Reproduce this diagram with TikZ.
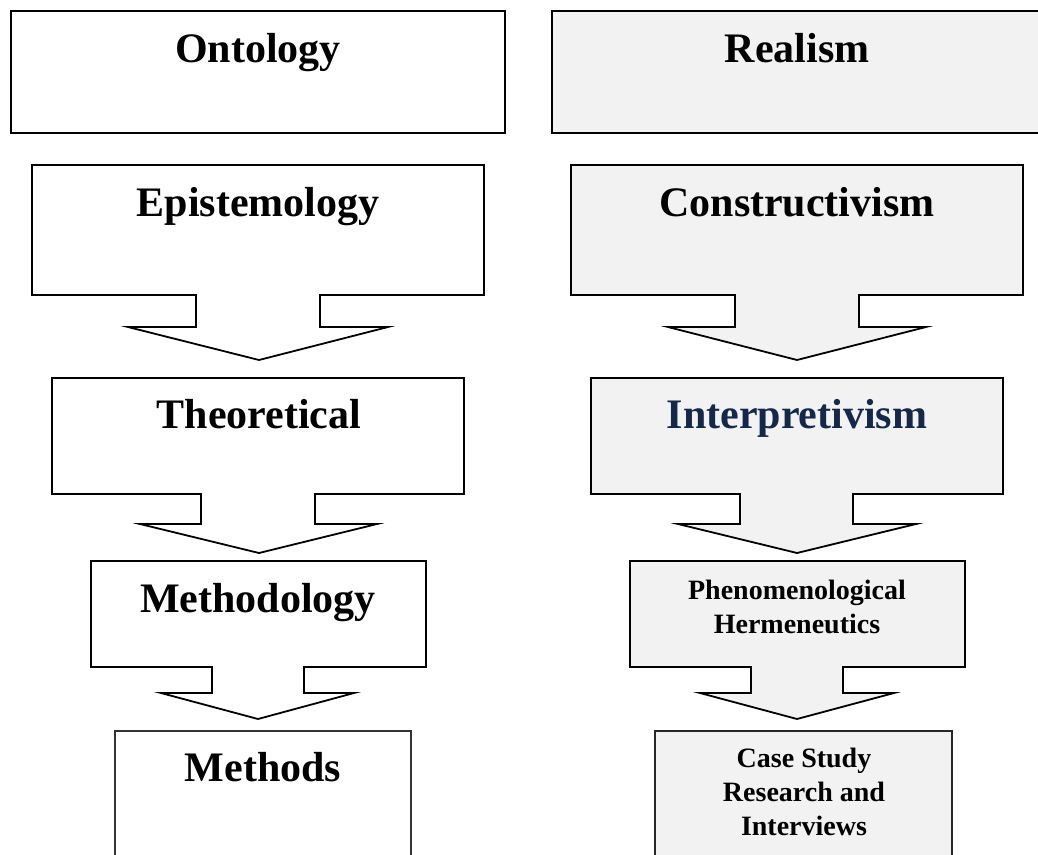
\documentclass[tikz,border=0pt]{standalone}
\usepackage{fontspec}
\setmainfont{Liberation Serif}
\definecolor{boxgray}{HTML}{F2F2F2}
\definecolor{navytext}{HTML}{14294A}
\begin{document}
\begin{tikzpicture}[x=1pt,y=-1pt,
  blk/.style={draw=black,line width=1.8pt,line join=miter},
  lbox/.style={blk,fill=white},
  rbox/.style={blk,fill=boxgray},
  bigtxt/.style={font=\fontsize{42}{50}\selectfont\bfseries,anchor=base,inner sep=0pt},
  smalltxt/.style={font=\fontsize{28}{34}\selectfont\bfseries,align=center,anchor=base,inner sep=0pt}]
\clip (0,0) rectangle (1038,854);
\fill[white] (0,0) rectangle (1038,854);
% ---------- left column ----------
\path[lbox] (11,11) rectangle (505,133);
\path[lbox] (32,165) -- (484,165) -- (484,295) -- (320,295) -- (320,327) -- (388,327) -- (259,360) -- (128,327) -- (196,327) -- (196,295) -- (32,295) -- cycle;
\path[lbox] (52,378) -- (464,378) -- (464,494) -- (315,494) -- (315,524) -- (377,524) -- (259,553) -- (140,524) -- (201,524) -- (201,494) -- (52,494) -- cycle;
\path[lbox] (91,561) -- (426,561) -- (426,667) -- (304,667) -- (304,693) -- (354,693) -- (258,719) -- (161,693) -- (212,693) -- (212,667) -- (91,667) -- cycle;
\path[lbox,line width=1.3pt,draw=black!80] (115,870) -- (115,731) -- (411,731) -- (411,870);
\node[bigtxt] (onto) at (258,62) {Ontology};
\node[bigtxt] (epis) at (258,216) {Epistemology};
\node[bigtxt] (theo) at (259,428) {Theoretical};
\node[bigtxt] (methy) at (258,612) {Methodology};
\node[bigtxt] (meths) at (263,781) {Methods};
% ---------- right column ----------
\path[rbox] (552,11) rectangle (1050,133);
\path[rbox] (571,165) -- (1023,165) -- (1023,295) -- (859,295) -- (859,327) -- (926,327) -- (797,360) -- (668,327) -- (735,327) -- (735,295) -- (571,295) -- cycle;
\path[rbox] (591,378) -- (1003,378) -- (1003,494) -- (853,494) -- (853,524) -- (916,524) -- (797,553) -- (678,524) -- (740,524) -- (740,494) -- (591,494) -- cycle;
\path[rbox] (630,561) -- (965,561) -- (965,667) -- (843,667) -- (843,693) -- (894,693) -- (797,719) -- (700,693) -- (751,693) -- (751,667) -- (630,667) -- cycle;
\path[rbox,line width=1.4pt,draw=black!85] (655,870) -- (655,731) -- (952,731) -- (952,870);
\node[bigtxt] (real) at (797,62) {Realism};
\node[bigtxt] (cons) at (797,216) {Constructivism};
\node[bigtxt,text=navytext] (interp) at (797,428) {Interpretivism};
\node[smalltxt] (phen) at (797,633) {Phenomenological\\Hermeneutics};
\node[smalltxt] (case) at (804,835) {Case Study\\Research and\\Interviews};
\end{tikzpicture}
\end{document}
